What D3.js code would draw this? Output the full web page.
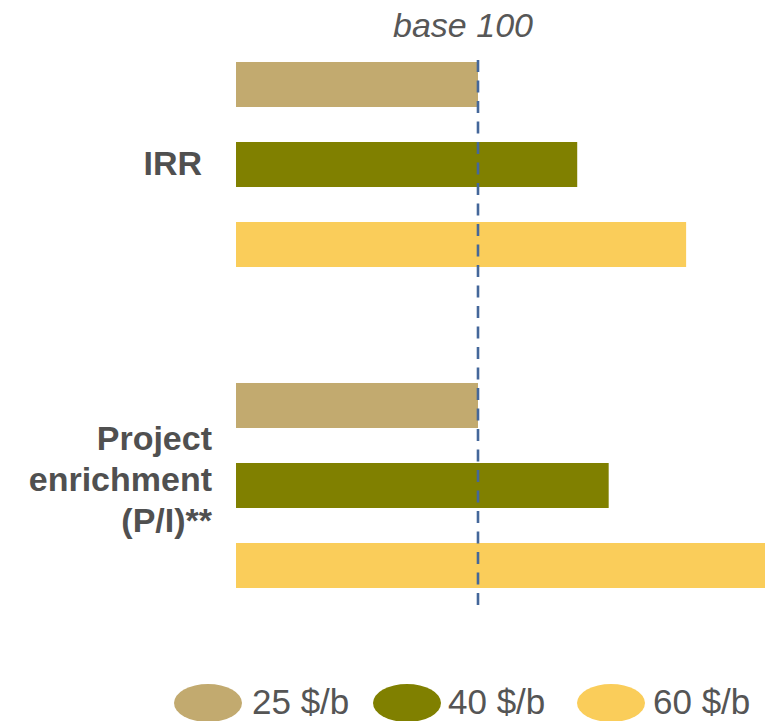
<!DOCTYPE html>
<html>
<head>
<meta charset="utf-8">
<script src="https://cdn.jsdelivr.net/npm/d3@7"></script>
<style>
  html, body { margin: 0; padding: 0; background: #ffffff; }
  svg { display: block; font-family: "Liberation Sans", Arial, sans-serif; }
</style>
</head>
<body>
<svg id="chart" width="765" height="721"></svg>
<script>
// Indicator groups and oil-price scenarios (index, base 100 at 25 $/b)
const categories = ["IRR", "Project enrichment (P/I)**"];
const categoryLines = [["IRR"], ["Project", "enrichment", "(P/I)**"]];
const scenarios = ["25 $/b", "40 $/b", "60 $/b"];
const irrValues = [100, 141, 186];
const enrichmentValues = [100, 154, 220];
const baseValue = 100;
const baseLabel = "base 100";
const colors = ["#c2aa6f", "#808000", "#facd5a"];

const rows = [irrValues, enrichmentValues];

const svg = d3.select("#chart");
const W = 765, H = 721;

const clip = svg.append("defs").append("clipPath").attr("id", "plotClip");
clip.append("rect").attr("x", 0).attr("y", 0).attr("width", W).attr("height", H);

// Horizontal value scale: zero at the bars' left edge
const x = d3.scaleLinear().domain([0, 100]).range([236, 478]);

// Outer band per indicator, inner band per scenario
const y0 = d3.scaleBand()
  .domain(categories)
  .range([44.5, 605.5])
  .paddingInner(0.2523)
  .paddingOuter(0);

const y1 = d3.scaleBand()
  .domain(scenarios)
  .range([0, y0.bandwidth()])
  .paddingInner(0.4375)
  .paddingOuter(0.21875);

const color = d3.scaleOrdinal().domain(scenarios).range(colors);

// Bars
const groups = svg.append("g").attr("clip-path", "url(#plotClip)")
  .selectAll("g.group")
  .data(categories)
  .join("g")
  .attr("class", "group")
  .attr("transform", c => `translate(0,${y0(c)})`);

groups.selectAll("rect")
  .data((c, i) => scenarios.map((s, j) => ({ s, v: rows[i][j] })))
  .join("rect")
  .attr("x", x(0))
  .attr("y", d => y1(d.s))
  .attr("width", d => x(d.v) - x(0))
  .attr("height", y1.bandwidth())
  .attr("fill", d => color(d.s));

// Base-100 reference line
svg.append("line")
  .attr("x1", x(baseValue)).attr("x2", x(baseValue))
  .attr("y1", 60).attr("y2", 606)
  .attr("stroke", "#44679a")
  .attr("stroke-width", 2.6)
  .attr("stroke-dasharray", "12,8.5");

svg.append("text")
  .attr("x", 463)
  .attr("y", 37)
  .attr("text-anchor", "middle")
  .attr("font-size", 34)
  .attr("font-style", "italic")
  .attr("fill", "#575757")
  .text(baseLabel);

// Category labels
const labelX = [202, 212];
const labelBaselines = [[175], [450, 491, 532]];
categories.forEach((c, i) => {
  const t = svg.append("text")
    .attr("text-anchor", "end")
    .attr("font-size", 34)
    .attr("font-weight", "bold")
    .attr("fill", "#505050");
  categoryLines[i].forEach((line, k) => {
    t.append("tspan")
      .attr("x", labelX[i])
      .attr("y", labelBaselines[i][k])
      .text(line);
  });
});

// Legend
const legendEllipseX = [208, 407, 611];
const legendTextX = [252, 448, 653];
const legend = svg.append("g").selectAll("g")
  .data(scenarios)
  .join("g");

legend.append("ellipse")
  .attr("cx", (d, i) => legendEllipseX[i])
  .attr("cy", 703)
  .attr("rx", 34)
  .attr("ry", 19)
  .attr("fill", d => color(d));

legend.append("text")
  .attr("x", (d, i) => legendTextX[i])
  .attr("y", 714)
  .attr("font-size", 35)
  .attr("fill", "#555555")
  .text(d => d);
</script>
</body>
</html>
